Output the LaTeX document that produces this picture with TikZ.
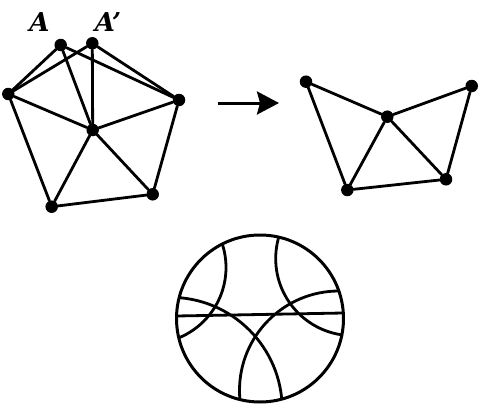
\documentclass[tikz,border=0pt]{standalone}
\usepackage{fontspec}
\newfontfamily\lblfont{DejaVu Serif}
\usetikzlibrary{arrows.meta}
\begin{document}
\begin{tikzpicture}[x=1pt,y=-1pt,
  dot/.style={circle,fill=black,inner sep=0pt,minimum size=12.5pt},
  edge/.style={line width=2.8pt,line cap=round},
  geo/.style={line width=2.8pt},
  lbl/.style={font=\lblfont\fontsize{26}{26}\selectfont\bfseries\itshape,inner sep=0pt}]
\useasboundingbox (0,0) rectangle (479,404);
% left graph
\node[dot] (A)  at (60.7,45) {};
\node[dot] (Ap) at (92.3,43.3) {};
\node[dot] (L)  at (8.3,94) {};
\node[dot] (R)  at (179,100) {};
\node[dot] (C)  at (92.7,130) {};
\node[dot] (BL) at (51.7,206.7) {};
\node[dot] (BR) at (152.7,194.3) {};
\foreach \u/\v in {A/L,A/C,A/R,Ap/L,Ap/C,Ap/R,L/C,L/BL,C/R,C/BL,C/BR,R/BR,BL/BR}
  \draw[edge] (\u) -- (\v);
\node[lbl] (labA) at (39.5,22) {A};
\node[lbl] (labAp) at (108,22) {A’};
% arrow
\coordinate (arS) at (218,103);
\coordinate (arE) at (279,103);
\draw[line width=3pt,-{Stealth[length=22pt,width=23pt,inset=3pt]}] (arS) -- (arE);
% right graph
\node[dot] (P1) at (306,81.7) {};
\node[dot] (P2) at (387.3,116.7) {};
\node[dot] (P3) at (471.7,86) {};
\node[dot] (P4) at (347.3,190) {};
\node[dot] (P5) at (446,179.3) {};
\foreach \u/\v in {P1/P2,P2/P3,P1/P4,P2/P4,P2/P5,P3/P5,P4/P5}
  \draw[edge] (\u) -- (\v);
% disk
\coordinate (O) at (260,318.5);
\begin{scope}
  \clip (O) circle (83.5);
  \draw[geo] (150,267.5) circle (76);
  \draw[geo] (352.7,258.6) circle (77);
  \draw[geo] (170.2,409.3) circle (112);
  \draw[geo] (338.9,390.4) circle (99.4);
  \draw[geo] (160,316.3) -- (360,312.7);
\end{scope}
\draw[line width=3pt] (O) circle (83.5);
\end{tikzpicture}
\end{document}
